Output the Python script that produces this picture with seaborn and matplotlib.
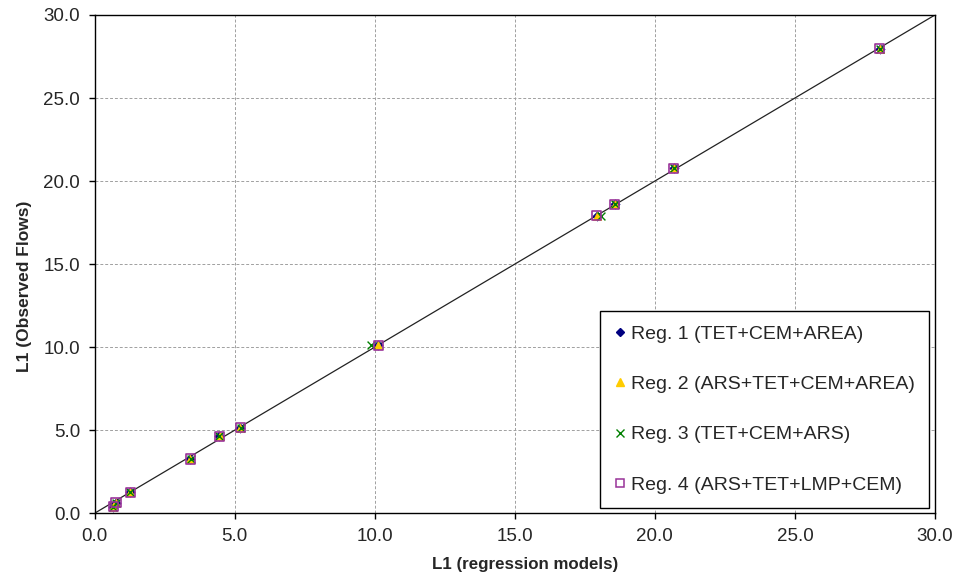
import matplotlib
matplotlib.use("Agg")
import matplotlib.pyplot as plt
import seaborn as sns
from matplotlib.lines import Line2D

sns.set_style("white")
plt.rcParams['font.family'] = ['Liberation Sans', 'DejaVu Sans']

observed = [0.40, 0.64, 1.25, 3.27, 4.63, 5.14, 10.12, 17.91, 18.59, 20.77, 27.96]
reg1 = [0.66, 0.76, 1.27, 3.42, 4.45, 5.20, 10.12, 17.93, 18.56, 20.67, 28.03]
reg2 = [0.65, 0.76, 1.27, 3.42, 4.46, 5.20, 10.10, 17.93, 18.56, 20.67, 28.03]
reg3 = [0.66, 0.77, 1.28, 3.43, 4.45, 5.21, 9.87, 18.08, 18.57, 20.68, 28.04]
reg4 = [0.66, 0.76, 1.27, 3.42, 4.45, 5.20, 10.12, 17.93, 18.56, 20.67, 28.03]

labels = ["Reg. 1 (TET+CEM+AREA)", "Reg. 2 (ARS+TET+CEM+AREA)",
          "Reg. 3 (TET+CEM+ARS)", "Reg. 4 (ARS+TET+LMP+CEM)"]
ticks = [0, 5, 10, 15, 20, 25, 30]
tick_labels = ["0.0", "5.0", "10.0", "15.0", "20.0", "25.0", "30.0"]

fig = plt.figure(figsize=(9.56, 5.76), dpi=100)
ax = fig.add_axes([0.099, 0.109, 0.879, 0.865])

ax.plot([0, 30], [0, 30], color="#222222", lw=0.9, zorder=2)

sns.scatterplot(x=reg1, y=observed, ax=ax, marker="D", color="#000080", s=22,
                edgecolor="#000080", linewidth=0.5, zorder=3)
sns.scatterplot(x=reg2, y=observed, ax=ax, marker="^", color="#FFCC00", s=36,
                edgecolor="#FFCC00", linewidth=0.5, zorder=4)
sns.scatterplot(x=reg3, y=observed, ax=ax, marker="x", color="#008000", s=32,
                linewidth=1.0, zorder=5)
ax.scatter(reg4, observed, marker="s", facecolors="none", edgecolors="#993399",
           s=44, linewidths=1.2, zorder=6)

ax.set_xlim(0, 30)
ax.set_ylim(0, 30)
ax.set_xticks(ticks)
ax.set_xticklabels(tick_labels)
ax.set_yticks(ticks)
ax.set_yticklabels(tick_labels)
ax.tick_params(axis="both", direction="out", length=4.5, width=1, labelsize=13.5,
               bottom=True, left=True, color="black")
ax.tick_params(axis="x", pad=6.5)
ax.tick_params(axis="y", pad=6)
ax.grid(True, color="#A0A0A0", linestyle=(0, (3, 2)), linewidth=0.7)
ax.set_axisbelow(True)
for s in ax.spines.values():
    s.set_color("black")
    s.set_linewidth(1.0)

ax.set_xlabel("L1 (regression models)", fontsize=12.2, fontweight="bold")
ax.set_ylabel("L1 (Observed Flows)", fontsize=12.5, fontweight="bold")
ax.xaxis.set_label_coords(0.512, -0.088)
ax.yaxis.set_label_coords(-0.074, 0.456)

handles = [
    Line2D([], [], marker="D", color="#000080", ls="none", markersize=4),
    Line2D([], [], marker="^", color="#FFCC00", ls="none", markersize=6),
    Line2D([], [], marker="x", color="#008000", ls="none", markersize=6, mew=1),
    Line2D([], [], marker="s", markerfacecolor="none", markeredgecolor="#993399",
           color="#993399", ls="none", markersize=5.5, mew=1.1),
]
leg = ax.legend(handles, labels, loc="lower right", bbox_to_anchor=(0.993, 0.011),
                fontsize=14, frameon=True, fancybox=False, edgecolor="black",
                framealpha=1, labelspacing=1.68, handlelength=0.6, handletextpad=0.3,
                borderpad=0.72, borderaxespad=0)
leg.get_frame().set_linewidth(1.0)

fig.savefig("out.png", dpi=100)
